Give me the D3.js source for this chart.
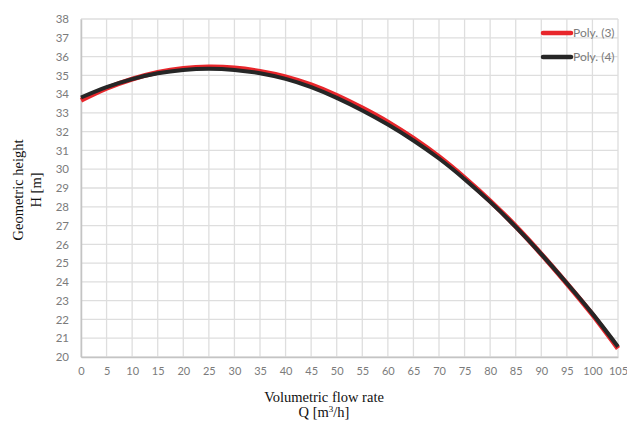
<!DOCTYPE html>
<html>
<head>
<meta charset="utf-8">
<script src="https://cdn.jsdelivr.net/npm/d3@7"></script>
<style>
  html, body { margin: 0; padding: 0; background: #fff; }
  svg { display: block; }
</style>
</head>
<body>
<svg id="chart" width="627" height="421"></svg>
<script>
// Flow rate Q [m3/h] at which the curves are sampled
const flowRate = [0, 5, 10, 15, 20, 25, 30, 35, 40, 45, 50, 55, 60, 65, 70, 75, 80, 85, 90, 95, 100, 105];

// Geometric height H [m] – polynomial fit of degree 3
const poly3 = [33.67, 34.31, 34.80, 35.16, 35.37, 35.44, 35.39, 35.21, 34.92, 34.49, 33.93, 33.26,
               32.51, 31.64, 30.66, 29.54, 28.31, 26.96, 25.48, 23.91, 22.26, 20.45];

// Geometric height H [m] – polynomial fit of degree 4
const poly4 = [33.82, 34.37, 34.80, 35.11, 35.29, 35.35, 35.29, 35.11, 34.81, 34.37, 33.80, 33.13,
               32.38, 31.53, 30.57, 29.47, 28.26, 26.93, 25.48, 23.93, 22.31, 20.55];

const xTicks = d3.range(0, 106, 5);
const yTicks = d3.range(20, 39, 1);

const seriesNames = ["Poly. (3)", "Poly. (4)"];
const seriesColors = ["#e8262b", "#262626"];

const svg = d3.select("#chart");
const margin = { left: 81, right: 9, top: 19, bottom: 64 };
const W = 627, H = 421;

const x = d3.scaleLinear().domain([0, 105]).range([margin.left, W - margin.right]);
const y = d3.scaleLinear().domain([20, 38]).range([H - margin.bottom, margin.top]);

const tickFont = "Lato, 'Open Sans', sans-serif";
const titleFont = "'Liberation Serif', 'DejaVu Serif', serif";

// Gridlines
const grid = svg.append("g");
grid.selectAll("line.h").data(yTicks).join("line")
  .attr("x1", x(0)).attr("x2", x(105))
  .attr("y1", d => y(d)).attr("y2", d => y(d))
  .attr("stroke", "#dedede").attr("stroke-width", 1.3);
grid.selectAll("line.v").data(xTicks).join("line")
  .attr("y1", y(20)).attr("y2", y(38))
  .attr("x1", d => x(d)).attr("x2", d => x(d))
  .attr("stroke", "#dedede").attr("stroke-width", 1.3);

// Axes (lines only, labels drawn by the axis generators)
const xAxis = svg.append("g")
  .attr("transform", `translate(0,${y(20)})`)
  .call(d3.axisBottom(x).tickValues(xTicks).tickSize(0).tickPadding(10).tickFormat(d3.format("d")));
const yAxis = svg.append("g")
  .attr("transform", `translate(${x(0)},0)`)
  .call(d3.axisLeft(y).tickValues(yTicks).tickSize(0).tickPadding(12).tickFormat(d3.format("d")));

[xAxis, yAxis].forEach(g => {
  g.select(".domain").attr("stroke", "#c4c4c4").attr("stroke-width", 1.5);
  g.selectAll("text")
    .attr("fill", "#7b7b7b")
    .style("font-family", tickFont)
    .style("font-size", "11px");
});
yAxis.selectAll("text").style("font-size", "11.5px");

// Curves
const line = d3.line()
  .x((d, i) => x(flowRate[i]))
  .y(d => y(d))
  .curve(d3.curveNatural);

svg.append("path").datum(poly3)
  .attr("d", line).attr("fill", "none")
  .attr("stroke", seriesColors[0]).attr("stroke-width", 5)
  .attr("stroke-linecap", "butt");
svg.append("path").datum(poly4)
  .attr("d", line).attr("fill", "none")
  .attr("stroke", seriesColors[1]).attr("stroke-width", 4)
  .attr("stroke-linecap", "butt");

// Legend
const legend = svg.append("g");
seriesNames.forEach((name, i) => {
  const ly = 33 + i * 24;
  legend.append("line")
    .attr("x1", 543).attr("x2", 571).attr("y1", ly).attr("y2", ly)
    .attr("stroke", seriesColors[i]).attr("stroke-width", 4.5)
    .attr("stroke-linecap", "round");
  legend.append("text")
    .attr("x", 573).attr("y", ly + 4)
    .attr("fill", "#7b7b7b")
    .style("font-family", tickFont)
    .style("font-size", "12px")
    .text(name);
});

// Axis titles
const xTitle = svg.append("text")
  .attr("text-anchor", "middle")
  .attr("fill", "#111")
  .style("font-family", titleFont)
  .style("font-size", "14.5px");
xTitle.append("tspan").attr("x", 324).attr("y", 402).text("Volumetric flow rate");
const q = xTitle.append("tspan").attr("x", 324).attr("y", 417);
q.append("tspan").text("Q [m");
q.append("tspan").attr("dy", -5).style("font-size", "9px").text("3");
q.append("tspan").attr("dy", 5).text("/h]");

const yTitle = svg.append("text")
  .attr("text-anchor", "middle")
  .attr("fill", "#111")
  .attr("transform", "translate(0,190) rotate(-90)")
  .style("font-family", titleFont)
  .style("font-size", "14.5px");
yTitle.append("tspan").attr("x", 0).attr("y", 23).text("Geometric height");
yTitle.append("tspan").attr("x", 0).attr("y", 41).text("H [m]");
</script>
</body>
</html>
